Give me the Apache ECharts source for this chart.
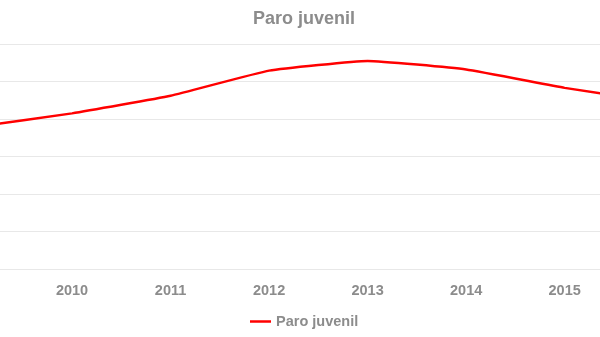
<!DOCTYPE html>
<html>
<head>
<meta charset="utf-8">
<script src="https://cdn.jsdelivr.net/npm/echarts@6/dist/echarts.min.js"></script>
<style>html,body{margin:0;padding:0;background:#fff}#c{width:600px;height:337px}</style>
</head>
<body>
<div id="c"></div>
<script>
var years = ['2009','2010','2011','2012','2013','2014','2015','2016'];
var paroJuvenil = [37.8, 41.5, 46.2, 52.9, 55.5, 53.2, 48.3, 44.4];
var seriesName = 'Paro juvenil';

var chart = echarts.init(document.getElementById('c'), null, {renderer:'canvas'});
chart.setOption({
  animation: false,
  backgroundColor: '#ffffff',
  textStyle: {fontFamily: 'Liberation Sans, Arial, sans-serif'},
  title: {
    text: 'Paro juvenil', left: 248, top: 5,
    textStyle: {fontSize: 18, fontWeight: 'bold', color: '#8c8c8c', fontFamily: 'Liberation Sans, Arial, sans-serif'}
  },
  legend: {
    data: [seriesName], bottom: 3, left: 245,
    icon: 'rect', itemWidth: 21, itemHeight: 2.5, itemGap: 6,
    textStyle: {fontSize: 14.5, fontWeight: 'bold', color: '#8c8c8c', fontFamily: 'Liberation Sans, Arial, sans-serif'}
  },
  grid: {left: -26.5, right: -63.2, top: 44, bottom: 68, containLabel: false, outerBoundsMode: 'none'},
  xAxis: {
    type: 'category', data: years, boundaryGap: false,
    axisLine: {show: false}, axisTick: {show: false},
    axisLabel: {color: '#8c8c8c', fontSize: 14.5, fontWeight: 'bold', margin: 14, fontFamily: 'Liberation Sans, Arial, sans-serif'},
    splitLine: {show: false}
  },
  yAxis: {
    type: 'value', min: 0, max: 60, interval: 10,
    axisLine: {show: false}, axisTick: {show: false}, axisLabel: {show: false},
    splitLine: {show: true, lineStyle: {color: '#e8e8e8', width: 1}}
  },
  series: [{
    name: seriesName, type: 'line', data: paroJuvenil,
    symbol: 'none', smooth: 0.12,
    lineStyle: {color: '#ff0000', width: 2.5},
    itemStyle: {color: '#ff0000'}
  }]
});
</script>
</body>
</html>
